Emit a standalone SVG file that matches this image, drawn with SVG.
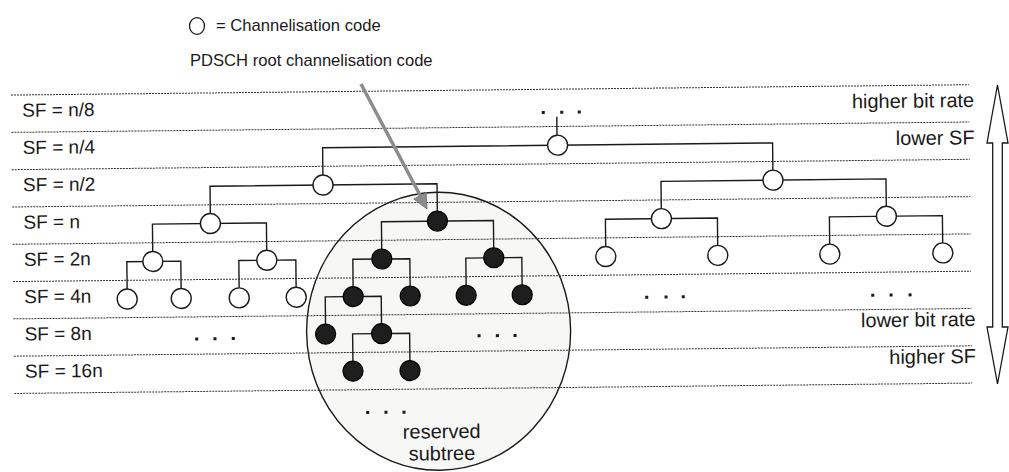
<svg xmlns="http://www.w3.org/2000/svg" width="1009" height="472" viewBox="0 0 1009 472">
<defs>
<style>
.sep{stroke:#333333;stroke-width:1;stroke-dasharray:2 1;fill:none}
.conn{stroke:#1a1a1a;stroke-width:1.4;fill:none}
.open{fill:#ffffff;stroke:#1a1a1a;stroke-width:1.4}
.filled{fill:#1e1e1e;stroke:#000;stroke-width:1.2}
.lbl{font-family:"Liberation Sans",Arial,sans-serif;font-size:19px;fill:#1a1a1a}
.rl{font-family:"Liberation Sans",Arial,sans-serif;font-size:20px;fill:#1a1a1a;text-anchor:end}
.top{font-family:"Liberation Sans",Arial,sans-serif;font-size:16.6px;fill:#1a1a1a}
.dot{fill:#1a1a1a}
</style>
</defs>
<rect width="1009" height="472" fill="#ffffff"/>

<!-- legend -->
<g id="legend">
<ellipse cx="197" cy="26" rx="7.5" ry="8.3" fill="#fff" stroke="#1a1a1a" stroke-width="1.3"/>
<text class="top" x="216" y="31">= Channelisation code</text>
<text class="top" x="190" y="66">PDSCH root channelisation code</text>
</g>

<g transform="rotate(-0.62)">
<!-- reserved subtree ellipse -->
<g id="reserved-subtree">
<ellipse cx="435" cy="336" rx="132" ry="139" fill="#f7f7f5" stroke="#1a1a1a" stroke-width="1.4"/>
<text class="rl" x="437" y="443" style="text-anchor:middle">reserved</text>
<text class="rl" x="437" y="465" style="text-anchor:middle">subtree</text>
</g>

<!-- separator lines -->
<g id="rows">
<line class="sep" x1="10" y1="95.2" x2="968" y2="95.2"/>
<line class="sep" x1="10" y1="132.5" x2="968" y2="132.5"/>
<line class="sep" x1="10" y1="169.8" x2="968" y2="169.8"/>
<line class="sep" x1="10" y1="207.1" x2="968" y2="207.1"/>
<line class="sep" x1="10" y1="244.4" x2="968" y2="244.4"/>
<line class="sep" x1="10" y1="281.7" x2="968" y2="281.7"/>
<line class="sep" x1="10" y1="319" x2="968" y2="319"/>
<line class="sep" x1="10" y1="356.3" x2="968" y2="356.3"/>
<line class="sep" x1="10" y1="393.6" x2="968" y2="393.6"/>
</g>

<!-- row labels -->
<g id="sf-labels">
<text class="lbl" x="21" y="117">SF = n/8</text>
<text class="lbl" x="21" y="154.3">SF = n/4</text>
<text class="lbl" x="21" y="191.6">SF = n/2</text>
<text class="lbl" x="21" y="228.9">SF = n</text>
<text class="lbl" x="21" y="266.2">SF = 2n</text>
<text class="lbl" x="21" y="303.5">SF = 4n</text>
<text class="lbl" x="21" y="340.8">SF = 8n</text>
<text class="lbl" x="21" y="378.1">SF = 16n</text>
</g>
<g id="rate-labels">
<text class="rl" x="973" y="117.5">higher bit rate</text>
<text class="rl" x="973" y="154.8">lower SF</text>
<text class="rl" x="972" y="336.5">lower bit rate</text>
<text class="rl" x="972" y="373.5">higher SF</text>
</g>

<!-- connectors -->
<g id="connectors" class="conn">
<path d="M555.5 122.7V141.2"/>
<path d="M321 178.5V151.2H771V178.5"/>
<path d="M208 215.8V188.5H435V215.8"/>
<path d="M659 215.8V188.5H884V215.8"/>
<path d="M150 253.1V225.8H264V253.1"/>
<path d="M379 253.1V225.8H491V253.1"/>
<path d="M603 253.1V225.8H715V253.1"/>
<path d="M827 253.1V225.8H940V253.1"/>
<path d="M124 290.4V263.1H178V290.4"/>
<path d="M236 290.4V263.1H293V290.4"/>
<path d="M350 290.4V263.1H407V290.4"/>
<path d="M463 290.4V263.1H519V290.4"/>
<path d="M322 327.7V300.4H378V327.7"/>
<path d="M349 365V337.7H406V365"/>
</g>

<!-- nodes -->
<g id="node-n4"><circle class="open" cx="556" cy="151.2" r="10"/></g>
<g id="node-n2-a"><circle class="open" cx="321" cy="188.5" r="10"/></g>
<g id="node-n2-b"><circle class="open" cx="771" cy="188.5" r="10"/></g>
<g id="node-n-a"><circle class="open" cx="208" cy="225.8" r="10"/></g>
<g id="node-n-root"><circle class="filled" cx="435" cy="225.8" r="10"/></g>
<g id="node-n-c"><circle class="open" cx="659" cy="225.8" r="10"/></g>
<g id="node-n-d"><circle class="open" cx="884" cy="225.8" r="10"/></g>
<g id="node-2n-a"><circle class="open" cx="150" cy="263.1" r="10"/></g>
<g id="node-2n-b"><circle class="open" cx="264" cy="263.1" r="10"/></g>
<g id="node-2n-c"><circle class="filled" cx="379" cy="263.1" r="10"/></g>
<g id="node-2n-d"><circle class="filled" cx="491" cy="263.1" r="10"/></g>
<g id="node-2n-e"><circle class="open" cx="603" cy="263.1" r="10"/></g>
<g id="node-2n-f"><circle class="open" cx="715" cy="263.1" r="10"/></g>
<g id="node-2n-g"><circle class="open" cx="827" cy="263.1" r="10"/></g>
<g id="node-2n-h"><circle class="open" cx="940" cy="263.1" r="10"/></g>
<g id="node-4n-a"><circle class="open" cx="124" cy="300.4" r="10"/></g>
<g id="node-4n-b"><circle class="open" cx="178" cy="300.4" r="10"/></g>
<g id="node-4n-c"><circle class="open" cx="236" cy="300.4" r="10"/></g>
<g id="node-4n-d"><circle class="open" cx="293" cy="300.4" r="10"/></g>
<g id="node-4n-e"><circle class="filled" cx="350" cy="300.4" r="10"/></g>
<g id="node-4n-f"><circle class="filled" cx="407" cy="300.4" r="10"/></g>
<g id="node-4n-g"><circle class="filled" cx="463" cy="300.4" r="10"/></g>
<g id="node-4n-h"><circle class="filled" cx="519" cy="300.4" r="10"/></g>
<g id="node-8n-a"><circle class="filled" cx="322" cy="337.7" r="10"/></g>
<g id="node-8n-b"><circle class="filled" cx="378" cy="337.7" r="10"/></g>
<g id="node-16n-a"><circle class="filled" cx="349" cy="375" r="10"/></g>
<g id="node-16n-b"><circle class="filled" cx="406" cy="375" r="10"/></g>

<!-- ellipsis dots -->
<g id="dots" class="dot">
<rect x="540.5" y="116.8" width="3" height="3"/><rect x="559" y="116.8" width="3" height="3"/><rect x="576.5" y="116.8" width="3" height="3"/>
<rect x="191.5" y="339.5" width="3" height="3"/><rect x="209.8" y="339.5" width="3" height="3"/><rect x="228.1" y="339.5" width="3" height="3"/>
<rect x="473.9" y="339.5" width="3" height="3"/><rect x="492.2" y="339.5" width="3" height="3"/><rect x="509.9" y="339.5" width="3" height="3"/>
<rect x="642" y="302.7" width="3" height="3"/><rect x="661.3" y="302.7" width="3" height="3"/><rect x="678.5" y="302.7" width="3" height="3"/>
<rect x="868" y="303.2" width="3" height="3"/><rect x="886.3" y="303.2" width="3" height="3"/><rect x="905.3" y="303.2" width="3" height="3"/>
<rect x="361.7" y="415" width="3" height="3"/><rect x="380" y="415" width="3" height="3"/><rect x="398" y="415" width="3" height="3"/>
</g>
</g>

<!-- pointer arrow to root code -->
<g id="root-pointer">
<line x1="361" y1="84" x2="420.5" y2="196" stroke="#8c8c8c" stroke-width="3.5"/>
<polygon points="427,209 413.8,199 426.2,192.4" fill="#8c8c8c" stroke="#6e6e6e" stroke-width="0.8"/>
</g>

<!-- double arrow on the right -->
<g id="rate-arrow">
<polygon points="997.5,85 1008,143 1002.3,143 1002.3,327 1008,327 997.5,384 987,327 992.7,327 992.7,143 987,143" fill="#ffffff" stroke="#1a1a1a" stroke-width="1.3" stroke-linejoin="miter"/>
</g>
</svg>
